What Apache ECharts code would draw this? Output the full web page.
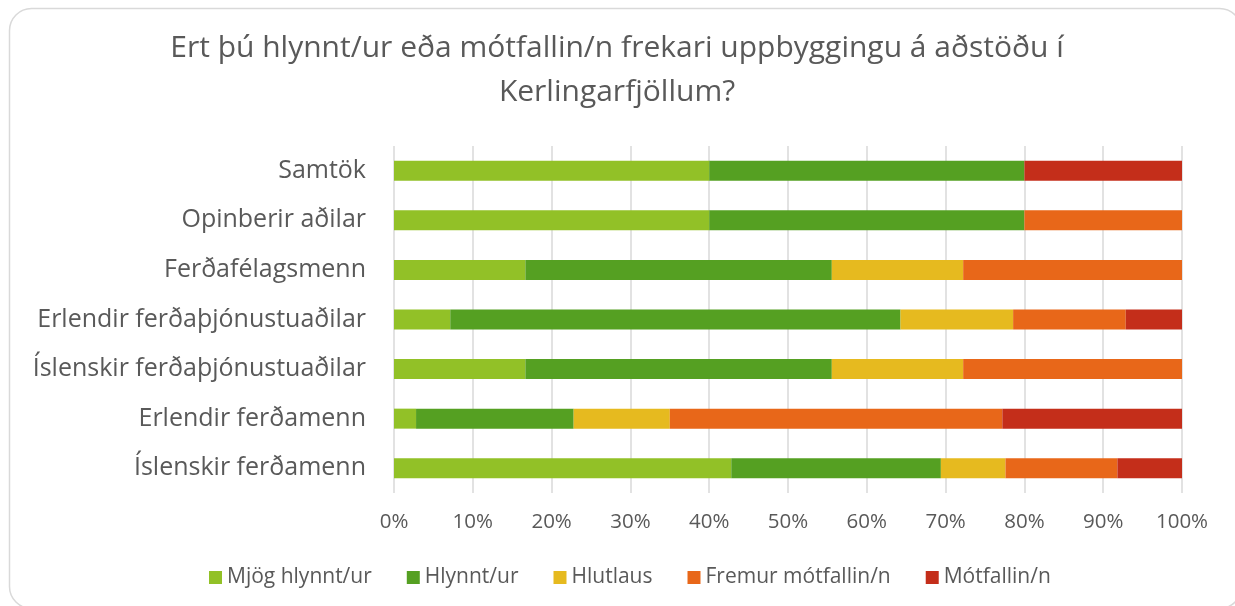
<!DOCTYPE html>
<html>
<head>
<meta charset="utf-8">
<script src="https://cdn.jsdelivr.net/npm/echarts@6/dist/echarts.min.js"></script>
<style>
    html, body { margin: 0; padding: 0; background: #fff; }
    #main { width: 1235px; height: 606px; }
</style>
</head>
<body>
<div id="main"></div>
<script>
    // flokkar, neðst fyrst (ECharts teiknar category-ás neðan frá)
    var categories = ['Íslenskir ferðamenn', 'Erlendir ferðamenn', 'Íslenskir ferðaþjónustuaðilar',
        'Erlendir ferðaþjónustuaðilar', 'Ferðafélagsmenn', 'Opinberir aðilar', 'Samtök'];
    var seriesNames = ['Mjög hlynnt/ur', 'Hlynnt/ur', 'Hlutlaus', 'Fremur mótfallin/n', 'Mótfallin/n'];
    var mjogHlynnt = [42.8, 2.8, 16.67, 7.14, 16.67, 40, 40];
    var hlynnt = [26.6, 20.0, 38.89, 57.14, 38.89, 40, 40];
    var hlutlaus = [8.2, 12.2, 16.67, 14.29, 16.67, 0, 0];
    var fremurMotfallin = [14.2, 42.2, 27.78, 14.29, 27.78, 20, 0];
    var motfallin = [8.2, 22.8, 0, 7.14, 0, 0, 20];
    var xTicks = [0, 10, 20, 30, 40, 50, 60, 70, 80, 90, 100];
    var colors = ['#92c127', '#55a022', '#e6ba1f', '#e86719', '#c42e1a'];
    var titleText = 'Ert þú hlynnt/ur eða mótfallin/n frekari uppbyggingu á aðstöðu í\nKerlingarfjöllum?';

    var font = '"Open Sans", "Noto Sans", sans-serif';
    var allData = [mjogHlynnt, hlynnt, hlutlaus, fremurMotfallin, motfallin];

    var chart = echarts.init(document.getElementById('main'));
    chart.setOption({
        animation: false,
        color: colors,
        graphic: [{
            type: 'rect',
            shape: { x: 9.5, y: 8.5, width: 1232, height: 600, r: 22 },
            style: { fill: 'none', stroke: '#d9d9d9', lineWidth: 1.5 },
            silent: true,
            z: -1
        }, {
            type: 'text',
            x: 617,
            y: 26,
            style: {
                text: titleText,
                fill: '#595959',
                font: '30px ' + font,
                align: 'center',
                lineHeight: 44
            }
        }],
        legend: {
            data: seriesNames,
            bottom: 13,
            left: 204,
            itemWidth: 13,
            itemHeight: 13,
            itemGap: 35,
            icon: 'rect',
            textStyle: { fontFamily: font, fontSize: 21, color: '#595959' }
        },
        grid: { left: 394, right: 53, top: 146, bottom: 113 },
        xAxis: {
            type: 'value',
            min: 0,
            max: 100,
            interval: 10,
            axisLine: { show: false },
            axisTick: { show: false },
            splitLine: { lineStyle: { color: '#d9d9d9', width: 1.5 } },
            axisLabel: {
                fontFamily: font,
                fontSize: 20.5,
                color: '#595959',
                margin: 19,
                formatter: function (v) { return xTicks.indexOf(v) >= 0 ? v + '%' : ''; }
            }
        },
        yAxis: {
            type: 'category',
            data: categories,
            axisLine: { show: false },
            axisTick: { show: false },
            axisLabel: { fontFamily: font, fontSize: 25, color: '#595959', margin: 28 }
        },
        series: seriesNames.map(function (name, i) {
            return {
                name: name,
                type: 'bar',
                stack: 'total',
                barWidth: 20,
                data: allData[i]
            };
        })
    });
</script>
</body>
</html>
